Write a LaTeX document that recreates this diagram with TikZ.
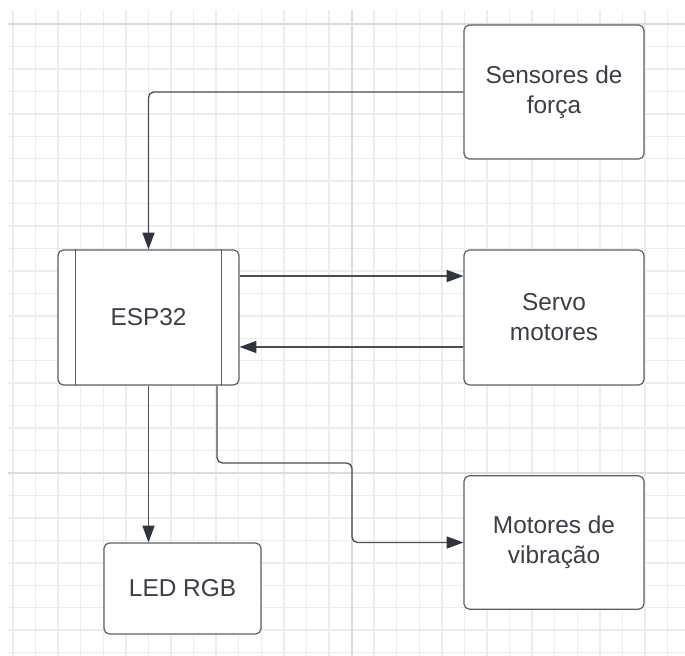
\documentclass[tikz,border=0pt]{standalone}
\usepackage{fontspec}
\setmainfont{Liberation Sans}
\usetikzlibrary{arrows.meta}
\definecolor{gridminor}{HTML}{EDEDED}
\definecolor{gridmajor}{HTML}{DCDCDC}
\definecolor{boxline}{HTML}{5C5F66}
\definecolor{linegray}{HTML}{4B4E56}
\definecolor{tipdark}{HTML}{30343D}
\definecolor{textgray}{HTML}{3B3E46}
\begin{document}
\begin{tikzpicture}[x=0.75pt,y=-0.75pt,
    box/.style={draw=boxline, line width=0.9pt, rounded corners=4pt, fill=white, text=textgray,
      align=center, inner sep=0pt, font=\fontsize{18.3}{22.5}\selectfont},
    conn/.style={draw=linegray, line width=1pt, rounded corners=4pt,
      -{Triangle[length=12.5pt,width=9pt,color=tipdark]}}]
    \useasboundingbox[fill=white] (0,0) rectangle (685,656);
    \foreach \i in {0,...,29}
        \draw[gridminor, line width=1.1pt] ({13+\i*22.57},10) -- ({13+\i*22.57},656);
    \foreach \j in {0,...,28}
        \draw[gridminor, line width=1.1pt] (8,{24+\j*22.45}) -- (685,{24+\j*22.45});
    \draw[gridmajor, line width=1.7pt] (352,10) -- (352,656);
    \draw[gridmajor, line width=1.7pt] (8,24) -- (685,24);
    \draw[gridmajor, line width=1.7pt] (8,473) -- (685,473);

    \node[box, minimum width=135pt, minimum height=100.5pt] (sens) at (554,92) {Sensores de\\força};
    \node[box, minimum width=135pt, minimum height=101.25pt] (serv) at (554,317.5) {Servo\\motores};
    \node[box, minimum width=135pt, minimum height=100pt] (vib) at (554,542.5) {Motores de\\vibração};
    \node[box, minimum width=135.75pt, minimum height=101.25pt] (esp) at (148.5,317.5) {ESP32};
    \node[box, minimum width=117.75pt, minimum height=68.25pt] (led) at (182.5,588.5) {LED RGB};
    \draw[boxline, line width=0.9pt] ([xshift=13.5pt]esp.north west) -- ([xshift=13.5pt]esp.south west);
    \draw[boxline, line width=0.9pt] ([xshift=-13.5pt]esp.north east) -- ([xshift=-13.5pt]esp.south east);

    \coordinate (bend) at (352,463);
    \draw[conn] (sens.west) -| (esp.north);
    \draw[conn] ([yshift=31.1pt]esp.east) -- ([yshift=31.1pt]serv.west);
    \draw[conn] ([yshift=-22.1pt]serv.west) -- ([yshift=-22.1pt]esp.east);
    \draw[conn] (esp.south) -- (esp.south |- led.north);
    \draw[conn] ([xshift=51.4pt]esp.south) |- (bend) |- (vib.west);
\end{tikzpicture}
\end{document}
